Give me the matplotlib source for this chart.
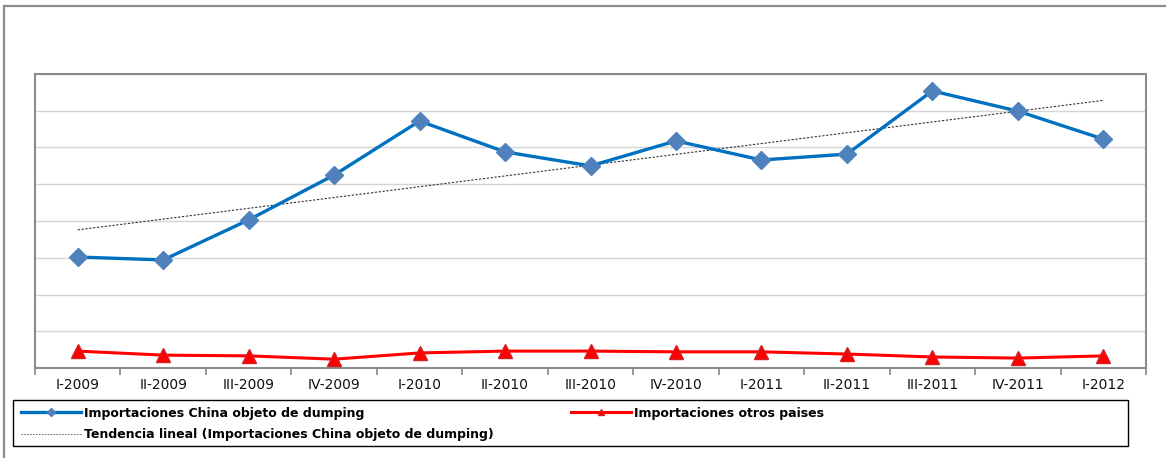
import numpy as np
import matplotlib
matplotlib.use("Agg")
import matplotlib.pyplot as plt
from matplotlib.lines import Line2D
from matplotlib.patches import Rectangle

plt.rcParams['font.family'] = ['DejaVu Sans']

trimestres = ['I-2009', 'II-2009', 'III-2009', 'IV-2009', 'I-2010', 'II-2010',
              'III-2010', 'IV-2010', 'I-2011', 'II-2011', 'III-2011', 'IV-2011', 'I-2012']
china = [3.02, 2.94, 4.03, 5.25, 6.72, 5.88, 5.50, 6.18, 5.66, 5.82, 7.54, 6.99, 6.23]
otros = [0.46, 0.35, 0.33, 0.24, 0.41, 0.46, 0.46, 0.44, 0.44, 0.38, 0.30, 0.27, 0.33]

x = np.arange(len(trimestres))
coef = np.polyfit(x, china, 1)
tendencia = np.polyval(coef, x)

fig = plt.figure(figsize=(11.66, 4.58), dpi=100)
ax = fig.add_axes([35/1166, 1-368/458, (1146-35)/1166, (368-74)/458])

# marco exterior
fig.add_artist(Rectangle((4/1166, -0.1), 1.2, 1-6/458+0.1, transform=fig.transFigure,
                         fill=False, edgecolor='#8c8c8c', lw=1.6))

ax.plot(x, tendencia, color='#333333', lw=0.8, ls=(0, (2, 1.5)), zorder=3)
ax.plot(x, china, color='#0070C0', lw=2.4, marker='D', markersize=9,
        markerfacecolor='#4F81BD', markeredgecolor='#4F81BD', zorder=4)
ax.plot(x, otros, color='#FF0000', lw=2.2, marker='^', markersize=10,
        markerfacecolor='#FF0000', markeredgecolor='#D02020', zorder=4)

ax.set_xlim(-0.5, len(trimestres) - 0.5)
ax.set_ylim(0, 8)
ax.set_yticks(np.arange(0, 9, 1))
ax.set_yticklabels([])
ax.tick_params(axis='y', length=0)
ax.grid(axis='y', color='#d4d4d4', lw=1)
ax.set_axisbelow(True)

ax.set_xticks(np.arange(-0.5, len(trimestres), 1))
ax.set_xticklabels([])
ax.set_xticks(x, minor=True)
ax.set_xticklabels(trimestres, minor=True, fontsize=10, color='#111111')
ax.tick_params(axis='x', which='major', length=5, color='#888888', width=1.2)
ax.tick_params(axis='x', which='minor', length=0, pad=7)

for s in ax.spines.values():
    s.set_color('#8c8c8c')
    s.set_linewidth(1.5)

# leyenda
handles = [
    Line2D([], [], color='#0070C0', lw=2.4, marker='D', markersize=4,
           markerfacecolor='#4F81BD', markeredgecolor='#4F81BD'),
    Line2D([], [], color='#555555', lw=0.6, ls=(0, (2, 1.5))),
    Line2D([], [], color='#FF0000', lw=2.2, marker='^', markersize=5,
           markerfacecolor='#FF0000', markeredgecolor='#D02020'),
]
labels = ['Importaciones China objeto de dumping',
          'Tendencia lineal (Importaciones China objeto de dumping)',
          'Importaciones otros paises']
fig.legend(handles, labels, ncol=2, loc='upper left',
           bbox_to_anchor=(12/1166, 1-398/458), frameon=False,
           prop={'weight': 'bold', 'size': 9.0}, handlelength=4.8,
           handletextpad=0.25, columnspacing=6.2, labelspacing=0.65,
           borderpad=0.2)
fig.add_artist(Rectangle((13/1166, 1-446/458), (1128-13)/1166, 46/458,
                         transform=fig.transFigure, fill=False,
                         edgecolor='black', lw=1))

fig.savefig('out.png', dpi=100)
